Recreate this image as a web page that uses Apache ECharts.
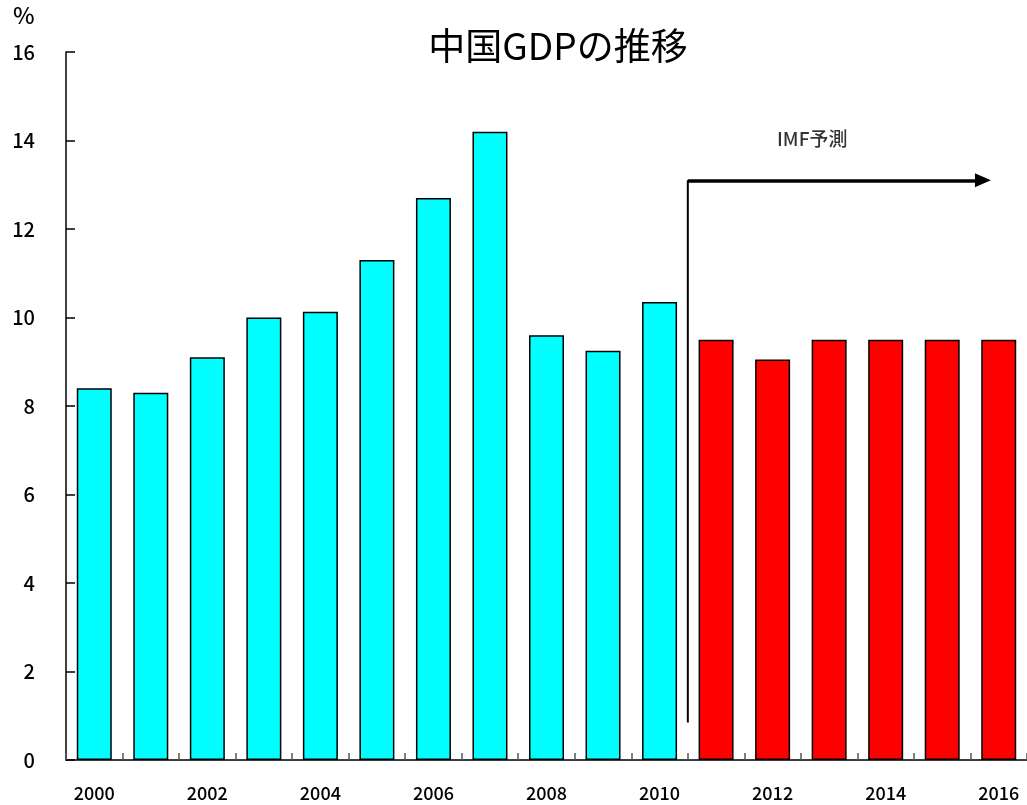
<!DOCTYPE html>
<html>
<head>
<meta charset="utf-8">
<script src="https://cdn.jsdelivr.net/npm/echarts@6/dist/echarts.min.js"></script>
<style>html,body{margin:0;padding:0;background:#fff}#c{width:1027px;height:805px}</style>
</head>
<body>
<div id="c"></div>
<script>
var years = ['2000','2001','2002','2003','2004','2005','2006','2007','2008','2009','2010','2011','2012','2013','2014','2015','2016'];
var actual = [8.4, 8.3, 9.1, 10.0, 10.13, 11.3, 12.7, 14.2, 9.6, 9.25, 10.35, null, null, null, null, null, null];
var forecast = [null, null, null, null, null, null, null, null, null, null, null, 9.5, 9.05, 9.5, 9.5, 9.5, 9.5];
var yTicks = [0, 2, 4, 6, 8, 10, 12, 14, 16];
var forecastLabel = 'IMF予測';
var titleText = '中国GDPの推移';
var unitText = '%';
// arrow annotation in data units (x: category index scale, y: %)
var arrowVertical = [[10.5, 0.85], [10.5, 13.1]];
var arrowHorizontal = [[10.5, 13.1], [15.72, 13.1]];
var labelPos = [[12.7, 14.05]];

var font = '"Noto Sans CJK JP", "Noto Sans", sans-serif';
var chart = echarts.init(document.getElementById('c'));
chart.setOption({
  animation: false,
  backgroundColor: '#fff',
  title: {
    text: titleText, left: 553, top: 22, textAlign: 'center',
    textStyle: {fontFamily: font, fontSize: 37, fontWeight: 'normal', color: '#000'}
  },
  graphic: [{type: 'text', left: 13, top: 4, style: {text: unitText, font: '500 23px ' + font, fill: '#000'}}],
  grid: {left: 66, right: -3, top: 52, bottom: 45},
  xAxis: [{
    type: 'category', data: years,
    axisLine: {onZero: false, lineStyle: {color: '#000', width: 1.5}},
    axisTick: {show: true, inside: true, length: 7, interval: 0, lineStyle: {color: '#555', width: 1.5}},
    axisLabel: {interval: 1, margin: 24, fontFamily: font, fontSize: 18, fontWeight: 500, color: '#000'}
  }, {
    type: 'value', min: -0.5, max: 16.5, show: false
  }],
  yAxis: {
    type: 'value', min: yTicks[0], max: yTicks[yTicks.length - 1], interval: 2,
    axisLine: {show: true, onZero: false, lineStyle: {color: '#000', width: 1.5}},
    axisTick: {show: true, inside: true, length: 9, lineStyle: {color: '#000', width: 1.5}},
    splitLine: {show: false},
    axisLabel: {margin: 31, fontFamily: font, fontSize: 20, fontWeight: 500, color: '#000'}
  },
  series: [{
    type: 'bar', data: actual, stack: 'g', barWidth: 35,
    itemStyle: {color: '#00ffff', borderColor: '#000', borderWidth: 1.5}
  }, {
    type: 'bar', data: forecast, stack: 'g', barWidth: 35,
    itemStyle: {color: '#ff0000', borderColor: '#000', borderWidth: 1.5}
  }, {
    type: 'line', xAxisIndex: 1, data: arrowVertical, symbol: 'none',
    lineStyle: {color: '#000', width: 2}, silent: true,
    markLine: {
      silent: true, symbol: ['none', 'triangle'], symbolSize: [14, 16],
      lineStyle: {color: '#000', width: 3.5, type: 'solid'},
      label: {show: false},
      data: [[{coord: arrowHorizontal[0]}, {coord: arrowHorizontal[1]}]]
    }
  }, {
    type: 'scatter', xAxisIndex: 1, data: labelPos, symbolSize: 0, silent: true,
    label: {show: true, position: 'inside', formatter: forecastLabel, fontFamily: font, fontSize: 19, fontWeight: 500, color: '#000'}
  }]
});
</script>
</body>
</html>
